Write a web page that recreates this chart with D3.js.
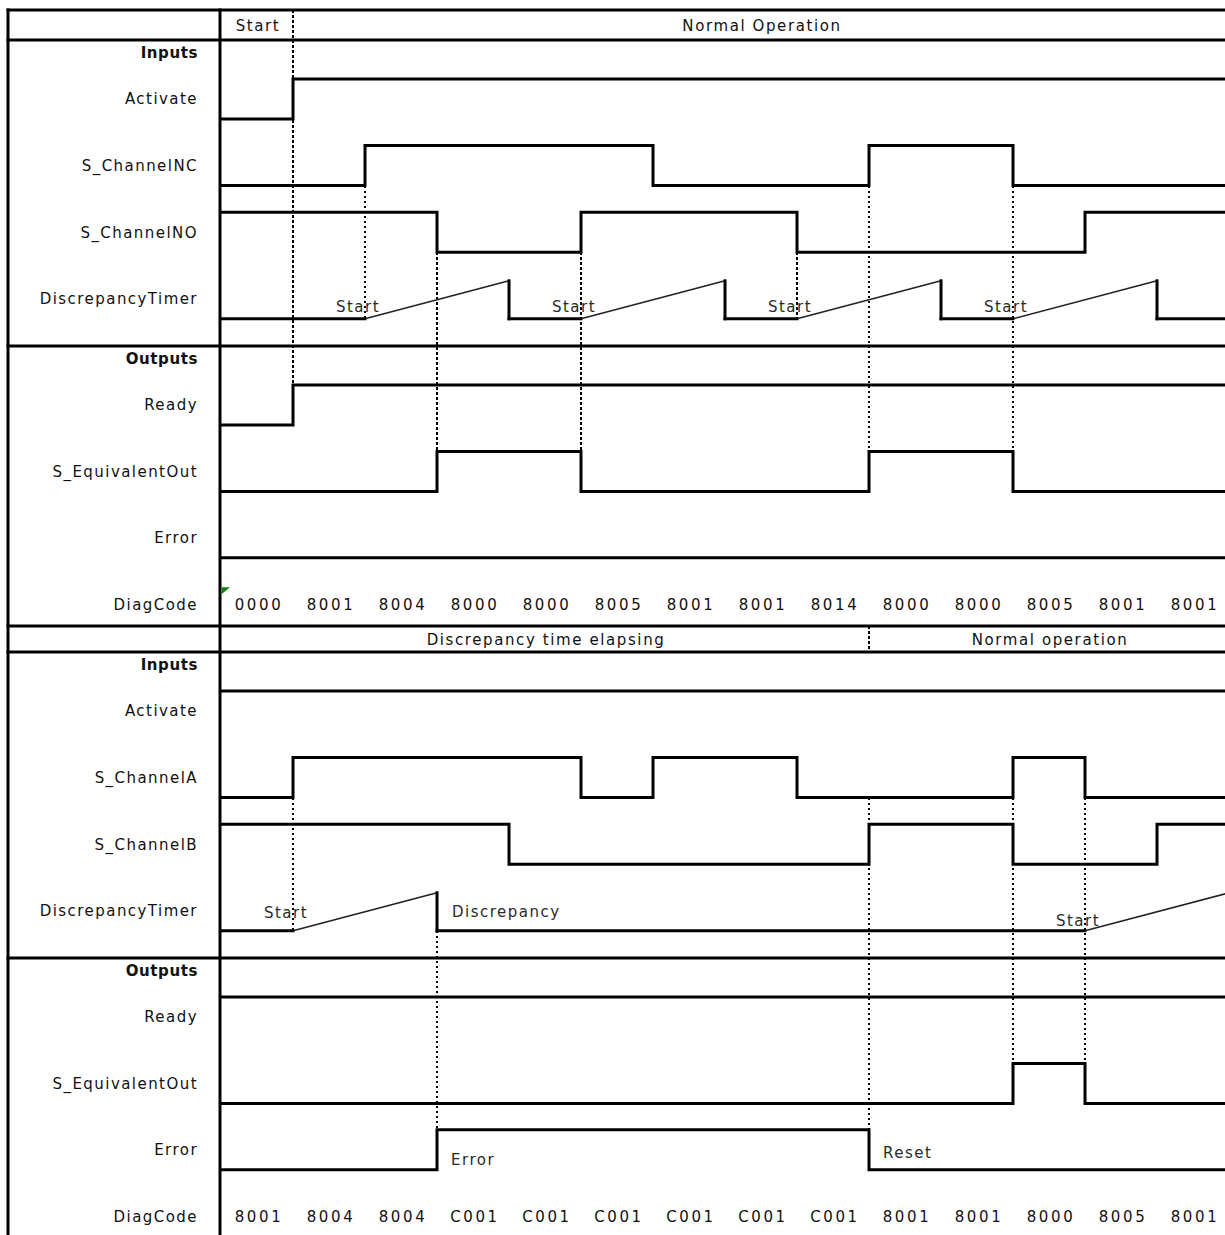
<!DOCTYPE html>
<html><head><meta charset="utf-8">
<script src="https://cdn.jsdelivr.net/npm/d3@7"></script>
<style>body{margin:0;background:#fff} svg{display:block;font-family:"DejaVu Sans",Verdana,sans-serif}</style>
</head><body><svg id="c" width="1225" height="1235"></svg>
<script>
// ---------------- data ----------------
const timeSteps = 14;
const topHeader = [{label:"Start", t0:0, t1:1}, {label:"Normal Operation", t0:1, t1:14}];
const bottomHeader = [{label:"Discrepancy time elapsing", t0:0, t1:9}, {label:"Normal operation", t0:9, t1:14}];

const topInputLabels = ["Activate", "S_ChannelNC", "S_ChannelNO", "DiscrepancyTimer"];
const bottomInputLabels = ["Activate", "S_ChannelA", "S_ChannelB", "DiscrepancyTimer"];
const outputLabels = ["Ready", "S_EquivalentOut", "Error", "DiagCode"];

const topActivate      = [0,1,1,1,1,1,1,1,1,1,1,1,1,1];
const topChannelNC     = [0,0,1,1,1,1,0,0,0,1,1,0,0,0];
const topChannelNO     = [1,1,1,0,0,1,1,1,0,0,0,0,1,1];
const topTimer         = [[0,0],[2,0],[4,1],[4,0],[5,0],[7,1],[7,0],[8,0],[10,1],[10,0],[11,0],[13,1],[13,0],[14,0]];
const topReady         = [0,1,1,1,1,1,1,1,1,1,1,1,1,1];
const topEquivalentOut = [0,0,0,1,1,0,0,0,0,1,1,0,0,0];
const topError         = [0,0,0,0,0,0,0,0,0,0,0,0,0,0];
const topDiagCode      = ["0000","8001","8004","8000","8000","8005","8001","8001","8014","8000","8000","8005","8001","8001"];
const topTimerNotes    = [{t:2,text:"Start"},{t:5,text:"Start"},{t:8,text:"Start"},{t:11,text:"Start"}];

const botActivate      = [1,1,1,1,1,1,1,1,1,1,1,1,1,1];
const botChannelA      = [0,1,1,1,1,0,1,1,0,0,0,1,0,0];
const botChannelB      = [1,1,1,1,0,0,0,0,0,1,1,0,0,1];
const botTimer         = [[0,0],[1,0],[3,1],[3,0],[12,0],[14,1]];
const botReady         = [1,1,1,1,1,1,1,1,1,1,1,1,1,1];
const botEquivalentOut = [0,0,0,0,0,0,0,0,0,0,0,1,0,0];
const botError         = [0,0,0,1,1,1,1,1,1,0,0,0,0,0];
const botDiagCode      = ["8001","8004","8004","C001","C001","C001","C001","C001","C001","8001","8001","8000","8005","8001"];
const botTimerNotes    = [{t:1,text:"Start"},{t:3,text:"Discrepancy",side:"after"},{t:12,text:"Start",low:true}];
const botErrorNotes    = [{t:3,text:"Error",lowSide:true},{t:9,text:"Reset",lowSide:false}];

// markers: [t, fromRow, fromLevel, toRow, toLevel]  ("H" = panel header top)
const topMarkers = [[1,"H",0,"Ready",1],[2,"In1",0,"Timer",0],[3,"In2",0,"Equiv",1],[5,"In2",0,"Equiv",1],
                    [8,"In2",0,"Timer",0],[9,"In1",0,"Equiv",1],[11,"In1",0,"Equiv",1]];
const botMarkers = [[9,"H",0,"HB",0],[1,"In1",0,"Timer",0],[3,"Timer",0,"Error",1],[9,"In1",0,"Error",1],
                    [11,"In1",0,"Equiv",1],[12,"In1",0,"Equiv",0]];

// ---------------- layout ----------------
const svg = d3.select("#c");
const X = d3.scaleLinear().domain([0, timeSteps]).range([221, 1229]);
const leftX = 8, labelX = 198, splitX = 220, W = 1225;

const panels = [
  {hTop:10, base:40, header:topHeader, inputs:topInputLabels,
   sig:{In0:topActivate, In1:topChannelNC, In2:topChannelNO, Ready:topReady, Equiv:topEquivalentOut, Error:topError},
   timer:topTimer, timerNotes:topTimerNotes, diag:topDiagCode, markers:topMarkers, errorNotes:[], tri:true},
  {hTop:626, base:652, header:bottomHeader, inputs:bottomInputLabels,
   sig:{In0:botActivate, In1:botChannelA, In2:botChannelB, Ready:botReady, Equiv:botEquivalentOut, Error:botError},
   timer:botTimer, timerNotes:botTimerNotes, diag:botDiagCode, markers:botMarkers, errorNotes:botErrorNotes, tri:false}
];

const gGrid = svg.append("g"), gMark = svg.append("g"), gSig = svg.append("g"), gText = svg.append("g");
const txtColor = "#111";

function label(x, y, s, opts={}) {
  return gText.append("text").attr("x", x).attr("y", y).attr("dy", "0.36em")
    .attr("text-anchor", opts.anchor || "end").attr("font-size", 15)
    .attr("letter-spacing", opts.ls != null ? opts.ls : 1.45)
    .attr("font-weight", opts.bold ? "bold" : "normal")
    .attr("fill", opts.color || txtColor).text(s);
}

panels.forEach(p => {
  const c = {
    In0: p.base + 59, In1: p.base + 59 + 66.6, In2: p.base + 59 + 133.2, Timer: p.base + 59 + 199.8,
    Ready: p.base + 365, Equiv: p.base + 365 + 66.4, Error: p.base + 365 + 132.8, Diag: p.base + 365 + 199.2
  };
  const sep = p.base + 306;
  const yOf = (row, lvl) => {
    if (row === "H") return p.hTop;
    if (row === "HB") return p.base;
    if (row === "Timer") return d3.scaleLinear([0,1],[c.Timer + 20, c.Timer - 18])(lvl);
    return d3.scaleLinear([0,1],[c[row] + 20, c[row] - 20])(lvl);
  };

  // grid lines
  [p.hTop, p.base, sep].forEach(y => gGrid.append("line").attr("x1", leftX - 1.5).attr("x2", W)
      .attr("y1", y).attr("y2", y).attr("stroke", "#000").attr("stroke-width", 3));

  // header texts
  p.header.forEach(h => label((X(h.t0) + X(h.t1)) / 2 + 1, (p.hTop + p.base) / 2 + 0.5, h.label, {anchor:"middle", ls:1.6}));

  // row labels
  label(labelX, p.base + 13, "Inputs", {bold:true, ls:0.6});
  ["In0","In1","In2","Timer"].forEach((k,i) => label(labelX, c[k], p.inputs[i]));
  label(labelX, sep + 13, "Outputs", {bold:true, ls:0.6});
  ["Ready","Equiv","Error","Diag"].forEach((k,i) => label(labelX, c[k], outputLabels[i]));

  // markers (dotted)
  p.markers.forEach(m => gMark.append("line")
      .attr("x1", X(m[0])).attr("x2", X(m[0]))
      .attr("y1", yOf(m[1], m[2])).attr("y2", yOf(m[3], m[4]))
      .attr("stroke", "#000").attr("stroke-width", 2).attr("stroke-dasharray", "2.5,2.5")
      .attr("shape-rendering", "crispEdges"));

  // digital signals
  Object.entries(p.sig).forEach(([k, vals]) => {
    const pts = vals.map((v,i) => [i, v]).concat([[timeSteps, vals[vals.length-1]]]);
    const ys = d3.scaleLinear([0,1],[c[k] + 20, c[k] - 20]);
    gSig.append("path").attr("d", d3.line().x(d => X(d[0])).y(d => ys(d[1])).curve(d3.curveStepAfter)(pts))
      .attr("fill", "none").attr("stroke", "#000").attr("stroke-width", 3);
  });

  // timer
  const yt = d3.scaleLinear([0,1],[c.Timer + 20, c.Timer - 18]);
  for (let i = 0; i < p.timer.length - 1; i++) {
    const a = p.timer[i], b = p.timer[i+1];
    const ramp = a[0] !== b[0] && a[1] !== b[1];
    gSig.append("line").attr("x1", X(a[0])).attr("y1", yt(a[1])).attr("x2", X(b[0])).attr("y2", yt(b[1]))
      .attr("stroke", ramp ? "#222" : "#000").attr("stroke-width", ramp ? 1.6 : 3)
      .attr("stroke-linecap", ramp ? "butt" : "square");
  }
  p.timerNotes.forEach(n => {
    if (n.side === "after") label(X(n.t) + 15, c.Timer + 1, n.text, {anchor:"start", color:"#2a2a2a", ls:1.5});
    else label(X(n.t) - 7, c.Timer + (n.low ? 10 : (p.hTop < 100 ? 8 : 2)), n.text, {anchor:"middle", color:"#2a2a2a", ls:1.5});
  });
  p.errorNotes.forEach(n => label(X(n.t) + 14, c.Error + (n.lowSide ? 10 : 3), n.text, {anchor:"start", color:"#2a2a2a", ls:1.5}));

  // diag codes
  p.diag.forEach((d,i) => label(X(i + 0.5) + 2, c.Diag, d, {anchor:"middle", ls:2.6}));

  if (p.tri) gSig.append("polygon")
     .attr("points", [[X(0)+0.5, c.Diag - 17],[X(0)+9, c.Diag - 17],[X(0)+0.5, c.Diag - 10]].join(" "))
     .attr("fill", "#108010");
});

// vertical frame lines
[leftX, splitX].forEach(x => gGrid.append("line").attr("x1", x).attr("x2", x)
   .attr("y1", 8.5).attr("y2", 1235).attr("stroke", "#000").attr("stroke-width", 3));
</script></body></html>
